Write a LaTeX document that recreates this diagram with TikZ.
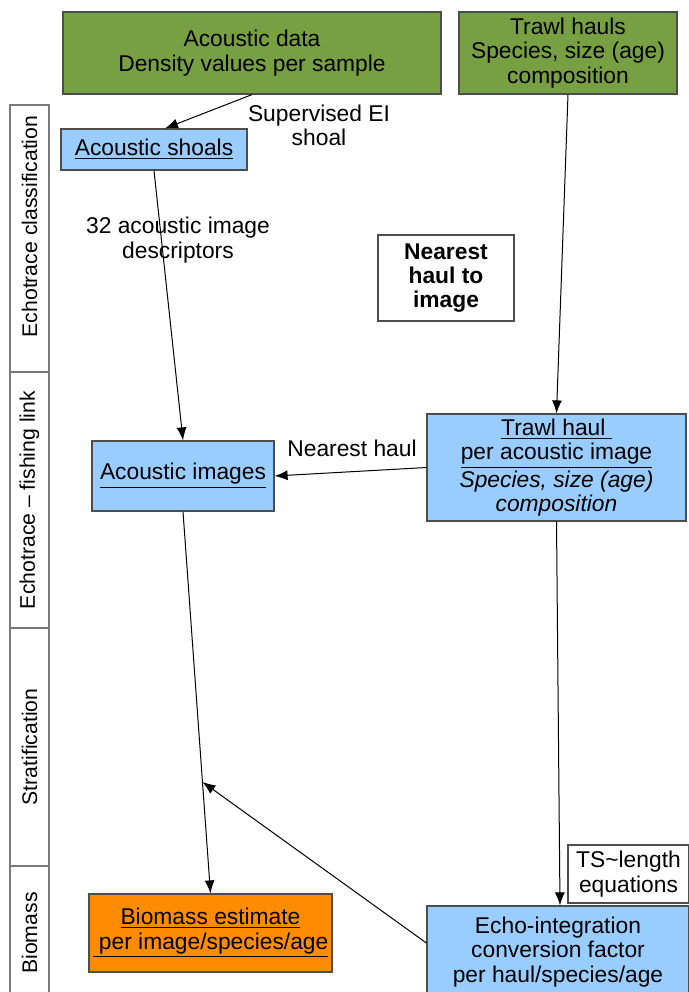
\documentclass[tikz,border=0pt]{standalone}
\usepackage{fontspec}
\setmainfont{Liberation Sans}
\usetikzlibrary{arrows.meta,calc}
\definecolor{grn}{HTML}{77A043}
\definecolor{lblue}{HTML}{99CCFF}
\definecolor{orng}{HTML}{FF8C00}
\definecolor{bordc}{HTML}{4D4D4D}
\definecolor{sidec}{HTML}{7A7A7A}
\begin{document}
\begin{tikzpicture}[x=0.5pt,y=-0.5pt,
  box/.style={draw=bordc, line width=0.6pt, align=center, inner sep=0pt,
    font=\fontsize{11.4}{12.1}\selectfont},
  sidebox/.style={draw=sidec, line width=0.6pt, rotate=90, inner sep=0pt,
    minimum height=19.5pt, font=\fontsize{10.6}{12}\selectfont},
  lbl/.style={align=center, inner sep=0pt, font=\fontsize{11.4}{12.1}\selectfont},
  conn/.style={draw=black, line width=0.5pt, -{Latex[length=6.5pt,width=5pt]}}]
\useasboundingbox (0,0) rectangle (689,992);
\clip (0,0) rectangle (689,992);

% side labels
\node[sidebox, minimum width=133.5pt] (s1) at (29.5,238.5) {\hspace{12pt}Echotrace classification};
\node[sidebox, minimum width=128pt] (s2) at (29.5,500) {Echotrace -- fishing link};
\node[sidebox, minimum width=119pt] (s3) at (29.5,747) {Stratification};
\node[sidebox, minimum width=67pt] (s4) at (29.5,933) {Biomass};

% boxes
\node[box, fill=grn, minimum width=189pt, minimum height=41pt] (g1) at (252,53)
  {Acoustic data\\Density values per sample};
\node[box, fill=grn, minimum width=109pt, minimum height=41pt] (g2) at (568,53)
  {Trawl hauls\\Species, size (age)\\composition};
\node[box, fill=lblue, minimum width=93pt, minimum height=20.5pt] (shoals) at (154,149.5)
  {\underline{Acoustic shoals}};
\node[box, fill=white, minimum width=68pt, minimum height=43pt] (near) at (446,278)
  {\bfseries Nearest\\\bfseries haul to\\\bfseries image};
\node[box, fill=lblue, minimum width=91pt, minimum height=35pt] (ai) at (183,476)
  {\underline{Acoustic images}};
\node[box, fill=lblue, minimum width=129.5pt, minimum height=53.5pt] (th) at (556.5,467.5)
  {\underline{Trawl haul\ }\\\underline{per acoustic image}\\\itshape Species, size (age)\\\itshape composition};
\node[box, fill=orng, minimum width=121.5pt, minimum height=39pt] (bm) at (210.5,933)
  {\underline{Biomass estimate}\\\underline{\ per image/species/age}};
\node[box, fill=lblue, minimum width=131pt, minimum height=46pt] (ei) at (558,952)
  {Echo-integration\\conversion factor\\per haul/species/age};
\node[box, fill=white, minimum width=60.5pt, minimum height=29pt] (ts) at (628.5,874)
  {TS\textasciitilde length\\equations};

% free labels
\node[lbl] (l1) at (319,125) {Supervised EI\\shoal};
\node[lbl] (l2) at (178,240) {32 acoustic image\\descriptors};
\node[lbl] (l3) at (352,448) {Nearest haul};

% connectors
\draw[conn] (g1.south) -- ([xshift=5.5pt]shoals.north);
\draw[conn] (g2.south) -- (th.north);
\draw[conn] (shoals.south) -- (ai.north);
\draw[conn] (th.west) -- (ai.east);
\draw[conn] (ai.south) -- (bm.north);
\coordinate (mid) at ($(ai.south)!0.708!(bm.north)$);
\draw[conn] ([yshift=4.5pt]ei.west) -- (mid);
\draw[conn] (th.south) -- ([xshift=1pt]ei.north);
\end{tikzpicture}
\end{document}
